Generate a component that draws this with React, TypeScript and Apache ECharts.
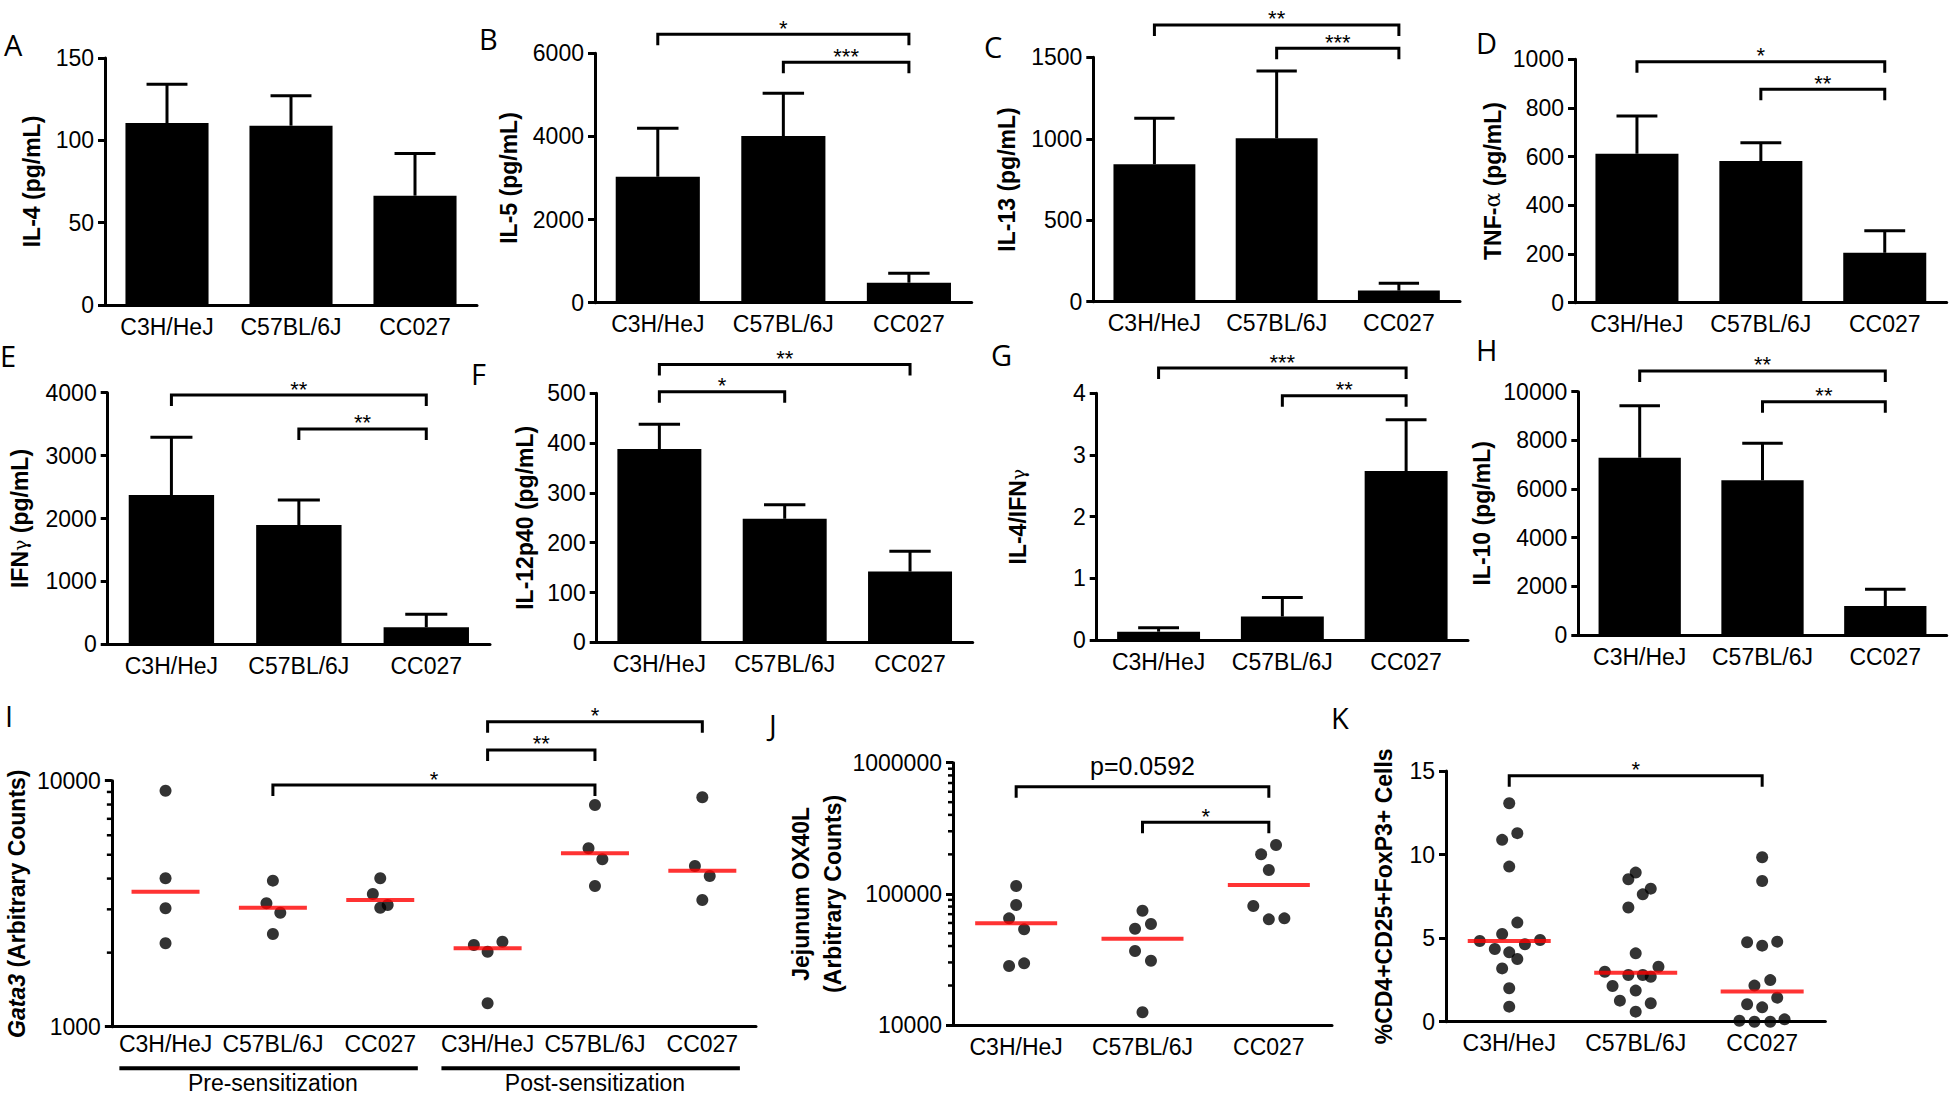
import React, { useEffect, useRef } from 'react';
import * as echarts from 'echarts';

// ---------- categories ----------
const strains = ['C3H/HeJ', 'C57BL/6J', 'CC027'];
const gata3Categories = ['C3H/HeJ', 'C57BL/6J', 'CC027', 'C3H/HeJ', 'C57BL/6J', 'CC027'];
const gata3Groups = ['Pre-sensitization', 'Post-sensitization'];
const gata3GroupSpans = [[0, 2], [3, 5]];

// ---------- bar panels (mean, SEM) ----------
const il4Mean = [110.5, 108.9, 66.4];
const il4Sem = [23.5, 18.1, 25.6];
const il5Mean = [3031, 4010, 481];
const il5Sem = [1164, 1027, 226];
const il13Mean = [843, 1003, 68];
const il13Sem = [283, 413, 45];
const tnfMean = [612, 582, 205];
const tnfSem = [155, 75, 91];
const ifnMean = [2374, 1897, 270];
const ifnSem = [917, 397, 207];
const il12Mean = [388, 248, 142];
const il12Sem = [50, 28, 41];
const ratioMean = [0.135, 0.38, 2.74];
const ratioSem = [0.065, 0.31, 0.83];
const il10Mean = [7288, 6358, 1192];
const il10Sem = [2137, 1521, 686];

// ---------- significance brackets: [from, to, y, label] ----------
const il5Sig = [[0, 2, 6457, '*'], [1, 2, 5783, '***']];
const il13Sig = [[0, 2, 1699, '**'], [1, 2, 1556, '***']];
const tnfSig = [[0, 2, 990, '*'], [1, 2, 877, '**']];
const ifnSig = [[0, 2, 3963, '**'], [1, 2, 3423, '**']];
const il12Sig = [[0, 2, 558, '**'], [0, 1, 503, '*']];
const ratioSig = [[0, 2, 4.41, '***'], [1, 2, 3.96, '**']];
const il10Sig = [[0, 2, 10851, '**'], [1, 2, 9589, '**']];
const gata3Sig = [[1, 4, 9605, '*'], [3, 4, 13330, '**'], [3, 5, 17370, '*']];
const ox40lSig = [[0, 2, 655000, 'p=0.0592'], [1, 2, 350800, '*']];
const tregSig = [[0, 2, 14.72, '*']];

// ---------- scatter panels ----------
const gata3Values = [
  [9107, 4011, 3029, 2183],
  [3923, 3175, 2906, 2381],
  [4011, 3463, 3046, 3124],
  [2148, 2216, 2018, 1245],
  [7966, 5311, 4792, 3733],
  [8560, 4502, 4100, 3273],
];
const gata3Jitter = [
  [0, 0, 0, 0],
  [0, -0.06, 0.069, 0],
  [0, -0.069, 0, 0.069],
  [-0.128, 0.138, 0, 0],
  [0, -0.06, 0.069, 0],
  [0, -0.069, 0.069, 0],
];
const gata3Median = [3539, 3046, 3273, 2083, 5069, 4306];
const gata3MinorTicks = [2000, 3000, 4000, 5000, 6000, 7000, 8000, 9000];

const ox40lValues = [
  [114700, 82150, 65060, 53630, 28170, 29530],
  [74320, 58870, 54200, 36640, 30910, 12500],
  [235500, 200000, 151900, 80720, 63920, 65060],
];
const ox40lJitter = [
  [0, 0, -0.056, 0.063, -0.056, 0.063],
  [0, 0.067, -0.059, -0.059, 0.067, 0],
  [0.057, -0.061, 0, -0.123, 0, 0.123],
];
const ox40lMedian = [59570, 45480, 116700];
const ox40lMinorTicks = [20000, 30000, 40000, 50000, 60000, 70000, 80000, 90000,
  200000, 300000, 400000, 500000, 600000, 700000, 800000, 900000];

const tregValues = [
  [13.07, 10.88, 11.28, 9.28, 5.93, 5.25, 4.83, 4.89, 4.35, 4.15, 4.63, 3.75, 3.19, 2.0, 0.9],
  [8.92, 8.52, 7.96, 7.62, 6.83, 4.09, 3.29, 2.99, 2.79, 2.79, 2.69, 2.14, 1.86, 1.26, 1.1, 0.6],
  [9.84, 8.42, 4.75, 4.55, 4.79, 2.49, 2.16, 1.44, 1.04, 0.86, 0.06, 0, 0, 0.14],
];
const tregJitter = [
  [0, -0.056, 0.064, 0, 0.064, -0.056, -0.233, 0.244, -0.114, 0, 0.124, 0.064, -0.056, 0, 0],
  [0, -0.058, 0.119, 0.056, -0.058, 0, 0.18, -0.244, -0.058, 0.056, 0.119, -0.183, 0, -0.125, 0.119, 0],
  [0, 0, -0.119, 0, 0.119, 0.064, -0.061, 0.119, -0.119, 0, -0.18, -0.061, 0.064, 0.177],
];
const tregMedian = [4.83, 2.93, 1.8];

// ---------- styling ----------
const fontSans = '"Liberation Sans", Arial, Helvetica, sans-serif';
const fontLetter = '"Open Sans", "Noto Sans", sans-serif';
const richName = {
  it: { fontStyle: 'italic', fontWeight: 'bold', fontSize: 23, fontFamily: fontSans, color: '#000' },
  g: { fontWeight: 'normal', fontSize: 19, fontFamily: '"DejaVu Serif", serif', color: '#000' },
  a: { fontWeight: 'normal', fontSize: 22, fontFamily: '"DejaVu Serif", serif', color: '#000' },
};

const barPanels = [
  { letter: 'A', mean: il4Mean, sem: il4Sem, sig: [], name: 'IL-4 (pg/mL)', max: 150, interval: 50, grid: [105, 58, 372, 247], nameGap: 57, lxy: [4, 44] },
  { letter: 'B', mean: il5Mean, sem: il5Sem, sig: il5Sig, name: 'IL-5 (pg/mL)', max: 6000, interval: 2000, grid: [595, 53.3, 376.7, 249.4], nameGap: 70, lxy: [479, 38] },
  { letter: 'C', mean: il13Mean, sem: il13Sem, sig: il13Sig, name: 'IL-13 (pg/mL)', max: 1500, interval: 500, grid: [1093.3, 57.3, 366.7, 244.4], nameGap: 70, lxy: [984, 46] },
  { letter: 'D', mean: tnfMean, sem: tnfSem, sig: tnfSig, name: 'TNF-{a|α} (pg/mL)', max: 1000, interval: 200, grid: [1575, 59.3, 371.7, 243.4], nameGap: 65, lxy: [1476, 42.5] },
  { letter: 'E', mean: ifnMean, sem: ifnSem, sig: ifnSig, name: 'IFN{g|γ} (pg/mL)', max: 4000, interval: 1000, grid: [107.7, 392.7, 382.3, 251.6], nameGap: 72, lxy: [0, 355] },
  { letter: 'F', mean: il12Mean, sem: il12Sem, sig: il12Sig, name: 'IL-12p40 (pg/mL)', max: 500, interval: 100, grid: [596.7, 393.3, 376, 249], nameGap: 56, lxy: [471, 373] },
  { letter: 'G', mean: ratioMean, sem: ratioSem, sig: ratioSig, name: 'IL-4/IFN{g|γ}', max: 4, interval: 1, grid: [1096.7, 393.3, 371.3, 246.7], nameGap: 63, lxy: [991, 354] },
  { letter: 'H', mean: il10Mean, sem: il10Sem, sig: il10Sig, name: 'IL-10 (pg/mL)', max: 10000, interval: 2000, grid: [1578.3, 391.7, 368.4, 243.3], nameGap: 80, lxy: [1476, 349] },
];

const scatterPanels = [
  { letter: 'I', cats: gata3Categories, values: gata3Values, jitter: gata3Jitter, median: gata3Median, sig: gata3Sig, log: true, min: 1000, max: 10000, minor: gata3MinorTicks, name: '{it|Gata3} (Arbitrary Counts)', nameGap: 78, grid: [102, 780.7, 654, 246], medianW: 68, labelMargin: 6, lxy: [5, 715], groups: true },
  { letter: 'J', cats: strains, values: ox40lValues, jitter: ox40lJitter, median: ox40lMedian, sig: ox40lSig, log: true, min: 10000, max: 1000000, minor: ox40lMinorTicks, name: 'Jejunum OX40L\n(Arbitrary Counts)', nameGap: 96, grid: [953, 762.7, 379, 262.3], medianW: 82, labelMargin: 10, lxy: [769, 724], groups: false },
  { letter: 'K', cats: strains, values: tregValues, jitter: tregJitter, median: tregMedian, sig: tregSig, log: false, min: 0, max: 15, interval: 5, minor: [], name: '%CD4+CD25+FoxP3+ Cells', nameGap: 46, grid: [1446, 771, 379.4, 250.7], medianW: 83, labelMargin: 10, lxy: [1331, 717], groups: false },
];

function makeYAxis(gridIndex: number, o: any) {
  const ax: any = {
    type: o.log ? 'log' : 'value',
    gridIndex,
    min: o.min,
    max: o.max,
    name: o.name,
    nameLocation: 'middle',
    nameGap: o.nameGap,
    nameTextStyle: { color: '#000', fontSize: 23, fontWeight: 'bold', fontFamily: fontSans, lineHeight: 32, rich: richName },
    axisLine: { show: true, onZero: false, lineStyle: { color: '#000', width: 3 } },
    axisTick: { show: true, length: 7, lineStyle: { color: '#000', width: 3 } },
    axisLabel: { color: '#000', fontSize: 23, fontFamily: fontSans, margin: 11, formatter: (v: number) => String(Math.round(v * 1000) / 1000) },
    splitLine: { show: false },
  };
  if (o.log) { ax.logBase = 10; ax.splitNumber = 2; } else { ax.interval = o.interval; }
  return ax;
}

function makeCatAxis(gridIndex: number, cats: string[], margin: number) {
  return {
    type: 'category', gridIndex, data: cats,
    axisLine: { show: true, onZero: false, lineStyle: { color: '#000', width: 3 } },
    axisTick: { show: false },
    axisLabel: { color: '#000', fontSize: 23, fontFamily: fontSans, margin, interval: 0, hideOverlap: false },
    splitLine: { show: false },
  };
}

function bracketSeries(xAxisIndex: number, yAxisIndex: number, sig: any[]) {
  return {
    type: 'custom', xAxisIndex, yAxisIndex, clip: false, silent: true, z: 5,
    encode: { x: [0, 1], y: 2 },
    data: sig.map((s) => [s[0], s[1], s[2]]),
    renderItem: (params: any, api: any) => {
      const a = api.coord([api.value(0), api.value(2)]);
      const b = api.coord([api.value(1), api.value(2)]);
      const label = String(sig[params.dataIndex][3]);
      const isP = label.charAt(0) === 'p';
      return {
        type: 'group',
        children: [
          { type: 'polyline', shape: { points: [[a[0], a[1] + 11], [a[0], a[1]], [b[0], b[1]], [b[0], b[1] + 11]] }, style: { stroke: '#000', lineWidth: 3, fill: 'none' } },
          { type: 'text', style: { text: label, x: (a[0] + b[0]) / 2, y: a[1] + (isP ? -8 : 5), align: 'center', verticalAlign: 'bottom', fontSize: isP ? 25 : 22, fontFamily: fontSans, fill: '#000' } },
        ],
      };
    },
  };
}

function buildOption() {
  const grid: any[] = [];
  const xAxis: any[] = [];
  const yAxis: any[] = [];
  const series: any[] = [];
  const graphic: any[] = [];

  const addLetter = (t: string, xy: number[]) => {
    graphic.push({ type: 'text', x: xy[0], y: xy[1], silent: true, style: { text: t, fontSize: 29, fontFamily: fontLetter, fill: '#000', align: 'left', verticalAlign: 'middle' } });
  };

  barPanels.forEach((p) => {
    const gi = grid.length;
    grid.push({ left: p.grid[0], top: p.grid[1], width: p.grid[2], height: p.grid[3] });
    const xi = xAxis.length;
    xAxis.push(makeCatAxis(gi, strains, 10));
    const yi = yAxis.length;
    yAxis.push(makeYAxis(gi, { min: 0, max: p.max, interval: p.interval, name: p.name, nameGap: p.nameGap }));
    series.push({ type: 'bar', xAxisIndex: xi, yAxisIndex: yi, data: p.mean, barCategoryGap: '33%', itemStyle: { color: '#000' }, silent: true });
    series.push({
      type: 'custom', xAxisIndex: xi, yAxisIndex: yi, clip: false, silent: true, z: 4,
      encode: { x: 0, y: [1, 2] },
      data: p.mean.map((m, i) => [i, m, p.sem[i]]),
      renderItem: (params: any, api: any) => {
        const i = api.value(0);
        const m = api.value(1);
        const s = api.value(2);
        const base = api.coord([i, m]);
        const top = api.coord([i, m + s]);
        const w = api.size([1, 0])[0] * 0.33;
        return {
          type: 'group',
          children: [
            { type: 'line', shape: { x1: base[0], y1: base[1], x2: top[0], y2: top[1] }, style: { stroke: '#000', lineWidth: 3 } },
            { type: 'line', shape: { x1: top[0] - w / 2, y1: top[1], x2: top[0] + w / 2, y2: top[1] }, style: { stroke: '#000', lineWidth: 3 } },
          ],
        };
      },
    });
    if (p.sig.length) series.push(bracketSeries(xi, yi, p.sig));
    addLetter(p.letter, p.lxy);
  });

  scatterPanels.forEach((p) => {
    const gi = grid.length;
    grid.push({ left: p.grid[0], top: p.grid[1], width: p.grid[2], height: p.grid[3] });
    xAxis.push(makeCatAxis(gi, p.cats, p.labelMargin));
    const vxi = xAxis.length;
    xAxis.push({ type: 'value', gridIndex: gi, min: -0.5, max: p.cats.length - 0.5, show: false });
    const yi = yAxis.length;
    yAxis.push(makeYAxis(gi, { log: p.log, min: p.min, max: p.max, interval: p.interval, name: p.name, nameGap: p.nameGap }));

    const pts: number[][] = [];
    p.values.forEach((arr, ci) => arr.forEach((v, k) => pts.push([ci + p.jitter[ci][k], v])));
    series.push({ type: 'scatter', xAxisIndex: vxi, yAxisIndex: yi, data: pts, symbol: 'circle', symbolSize: 12, itemStyle: { color: '#000' }, clip: false, silent: true, z: 3 });
    series.push({ type: 'scatter', xAxisIndex: vxi, yAxisIndex: yi, data: p.median.map((m, i) => [i, m]), symbol: 'rect', symbolSize: [p.medianW, 4], itemStyle: { color: '#ff0000' }, clip: false, silent: true, z: 4 });
    series.push(bracketSeries(vxi, yi, p.sig));
    if (p.minor.length) {
      series.push({
        type: 'custom', xAxisIndex: vxi, yAxisIndex: yi, clip: false, silent: true, z: 5,
        encode: { x: 0, y: 1 },
        data: p.minor.map((v) => [0, v]),
        renderItem: (params: any, api: any) => {
          const pt = api.coord([0, api.value(1)]);
          const x = params.coordSys.x;
          return { type: 'line', shape: { x1: x - 5, y1: pt[1], x2: x, y2: pt[1] }, style: { stroke: '#000', lineWidth: 2.5 } };
        },
      });
    }
    if (p.groups) {
      series.push({
        type: 'custom', xAxisIndex: vxi, yAxisIndex: yi, clip: false, silent: true, z: 5,
        encode: { x: [0, 1], y: 2 },
        data: gata3GroupSpans.map((s) => [s[0], s[1], p.min]),
        renderItem: (params: any, api: any) => {
          const a = api.coord([api.value(0) - 0.43, api.value(2)]);
          const b = api.coord([api.value(1) + 0.35, api.value(2)]);
          const c = api.coord([(api.value(0) + api.value(1)) / 2, api.value(2)]);
          const y = a[1] + 41.6;
          return {
            type: 'group',
            children: [
              { type: 'line', shape: { x1: a[0], y1: y, x2: b[0], y2: y }, style: { stroke: '#000', lineWidth: 4 } },
              { type: 'text', style: { text: gata3Groups[params.dataIndex], x: c[0], y: y + 3.5, align: 'center', verticalAlign: 'top', fontSize: 23, fontFamily: fontSans, fill: '#000' } },
            ],
          };
        },
      });
    }
    addLetter(p.letter, p.lxy);
  });

  return { animation: false, backgroundColor: '#fff', grid, xAxis, yAxis, series, graphic };
}

export default function App() {
  const ref = useRef<HTMLDivElement>(null);
  useEffect(() => {
    const chart = echarts.init(ref.current as HTMLDivElement, null, { renderer: 'svg' });
    chart.setOption(buildOption() as any);
    return () => chart.dispose();
  }, []);
  return <div ref={ref} style={{ position: 'fixed', left: 0, top: 0, width: 1950, height: 1096, background: '#fff' }} />;
}
